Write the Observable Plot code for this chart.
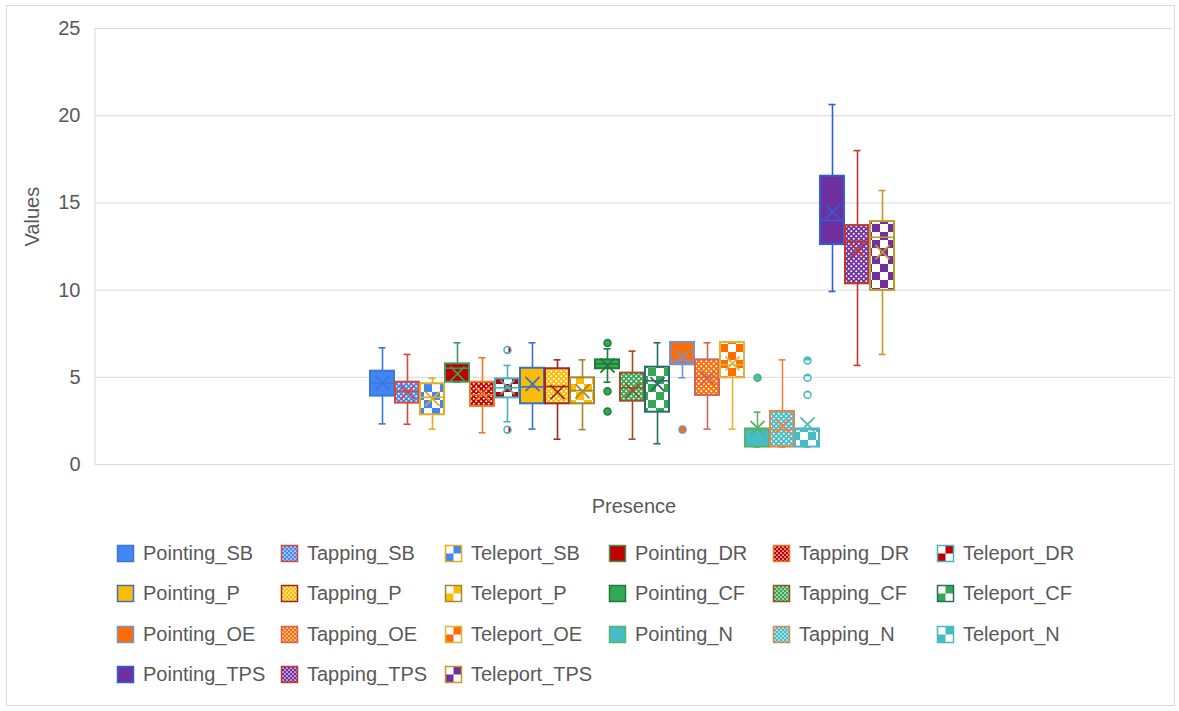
<!DOCTYPE html>
<html><head><meta charset="utf-8">
<script src="https://cdn.jsdelivr.net/npm/d3@7"></script>
<script src="https://cdn.jsdelivr.net/npm/@observablehq/plot@0.6"></script>
<style>
body{margin:0;background:#fff;font-family:"Liberation Sans",Arial,sans-serif;}
#wrap{position:relative;width:1179px;height:711px;overflow:hidden;background:#fff;}
#border{position:absolute;left:6px;top:5px;width:1169px;height:701px;border:1px solid #d9d9d9;box-sizing:border-box;pointer-events:none;}
#chart{position:absolute;left:0;top:0;}
#legend{position:absolute;left:0;top:0;}
.item{position:absolute;display:flex;align-items:center;height:22px;font-size:20px;color:#595959;white-space:nowrap;}
.item svg{margin-right:8px;flex:none;}
</style></head><body>
<div id="wrap"><div id="chart"></div><div id="legend"></div><div id="border"></div></div>
<script>
// ---- data ----
const series = ["Pointing_SB","Tapping_SB","Teleport_SB","Pointing_DR","Tapping_DR","Teleport_DR",
  "Pointing_P","Tapping_P","Teleport_P","Pointing_CF","Tapping_CF","Teleport_CF",
  "Pointing_OE","Tapping_OE","Teleport_OE","Pointing_N","Tapping_N","Teleport_N",
  "Pointing_TPS","Tapping_TPS","Teleport_TPS"];
const lowWhisker  = [2.33,2.31,2.03, 4.72,1.82,2.45, 2.03,1.45,2.00, 4.72,1.45,1.19, 4.97,2.03,2.03, 1.00,1.00,1.00,  9.92, 5.68, 6.31];
const q1          = [3.92,3.52,2.85, 4.72,3.33,3.82, 3.48,3.48,3.48, 5.49,3.63,3.00, 5.72,3.96,4.97, 1.00,1.00,1.00, 12.61,10.36, 9.98];
const median      = [4.66,4.20,3.85, 5.52,4.00,4.40, 4.45,4.47,4.24, 5.77,4.40,4.80, 5.96,5.00,5.72, 2.00,2.00,2.00, 13.99,12.80,13.03];
const q3          = [5.35,4.72,4.63, 5.77,4.72,4.91, 5.52,5.49,4.97, 6.00,5.24,5.58, 7.00,6.00,7.00, 2.04,3.04,2.04, 16.53,13.70,13.93];
const highWhisker = [6.69,6.31,4.95, 6.98,6.12,5.68, 6.98,6.00,6.00, 6.63,6.50,6.98, 7.00,6.98,7.00, 3.00,6.00,2.04, 20.64,18.00,15.71];
const mean        = [4.68,4.15,3.77, 5.20,4.05,4.43, 4.62,4.15,4.20, 5.68,4.24,4.60, 6.15,4.95,5.80, 2.10,2.20,2.30, 14.50,12.27,12.17];
const outlierSeries = ["Teleport_DR","Teleport_DR","Pointing_CF","Pointing_CF","Pointing_CF","Pointing_OE","Pointing_N","Teleport_N","Teleport_N","Teleport_N"];
const outlierValues = [6.56,1.99,6.96,4.20,3.04,2.00,4.97,5.96,4.97,4.00];
const yTicks = [0,5,10,15,20,25];
const xTitle = "Presence";
const yTitle = "Values";

// ---- styles ----
const groupColor = {SB:"#4285F4", DR:"#C00000", P:"#FBBC04", CF:"#34A853", OE:"#FF6D01", N:"#46BDC6", TPS:"#7030A0"};
const borderColor = {
  Pointing_SB:"#3C78D8", Tapping_SB:"#D9463B", Teleport_SB:"#E2AC1E",
  Pointing_DR:"#3E9A5C", Tapping_DR:"#EA7A2A", Teleport_DR:"#46B3BD",
  Pointing_P:"#3F6FC4", Tapping_P:"#9E2A22", Teleport_P:"#A3862E",
  Pointing_CF:"#1F7A3C", Tapping_CF:"#9C4F22", Teleport_CF:"#236E66",
  Pointing_OE:"#6E95DC", Tapping_OE:"#CF6459", Teleport_OE:"#E3B23C",
  Pointing_N:"#55B46A", Tapping_N:"#E8844A", Teleport_N:"#4DB9C2",
  Pointing_TPS:"#2F5FD0", Tapping_TPS:"#C0392B", Teleport_TPS:"#C49A22"
};
const kind = s => s.split("_")[0];
const grp = s => s.split("_")[1];
const idx = d3.range(series.length);
const fillOf = (i, prefix="pat") => kind(series[i]) === "Pointing" ? groupColor[grp(series[i])] : `url(#${prefix}-${i})`;
const strokeOf = i => borderColor[series[i]];
const oIdx = d3.range(outlierValues.length);
const oSer = j => series.indexOf(outlierSeries[j]);

const mL = 95, mT = 28, mB = 61, mR = 7;
const chart = Plot.plot({
  width: 1179, height: 525,
  marginLeft: mL, marginRight: mR, marginTop: mT, marginBottom: mB,
  style: {fontFamily: '"Liberation Sans", Arial, sans-serif', fontSize: "20px", color: "#595959", background: "transparent"},
  x: {type: "band", domain: series, range: [361, 902], paddingInner: 0.06, paddingOuter: 0, axis: null},
  y: {domain: [0, 25], ticks: yTicks, tickSize: 0, tickPadding: 15, label: null},
  color: {type: "identity"},
  marks: [
    Plot.ruleY(yTicks, {stroke: "#d9d9d9", strokeWidth: 1}),
    Plot.ruleX(idx, {x: i => series[i], y1: i => lowWhisker[i], y2: i => highWhisker[i], stroke: strokeOf, strokeWidth: 1.6}),
    Plot.tickY(idx, {x: i => series[i], y: i => highWhisker[i], stroke: strokeOf, strokeWidth: 1.6, insetLeft: 8.5, insetRight: 8.5}),
    Plot.tickY(idx, {x: i => series[i], y: i => lowWhisker[i], stroke: strokeOf, strokeWidth: 1.6, insetLeft: 8.5, insetRight: 8.5}),
    Plot.barY(idx, {x: i => series[i], y1: i => q1[i], y2: i => q3[i], fill: i => fillOf(i), stroke: strokeOf, strokeWidth: 2}),
    Plot.tickY(idx, {x: i => series[i], y: i => median[i], stroke: strokeOf, strokeWidth: 1.6, insetLeft: 1, insetRight: 1}),
    Plot.dot(idx, {x: i => series[i], y: i => mean[i], symbol: "times", r: 6.5, stroke: strokeOf, strokeWidth: 1.8}),
    Plot.dot(oIdx, {x: j => outlierSeries[j], y: j => outlierValues[j], r: 3.5, fill: j => fillOf(oSer(j)), stroke: j => strokeOf(oSer(j)), strokeWidth: 1.5}),
    Plot.text([xTitle], {frameAnchor: "bottom", lineAnchor: "middle", dy: 42, fontSize: 20, fill: "#595959"}),
    Plot.text([yTitle], {frameAnchor: "left", dx: -63, rotate: -90, fontSize: 20, fill: "#595959"})
  ]
});

function addPatterns(defs, prefix) {
  idx.forEach(i => {
    const s = series[i], k = kind(s), c = groupColor[grp(s)];
    if (k === "Tapping") {
      const p = defs.append("pattern").attr("id", `${prefix}-${i}`).attr("patternUnits", "userSpaceOnUse")
        .attr("width", 5).attr("height", 5);
      p.append("rect").attr("width", 5).attr("height", 5).attr("fill", c);
      p.append("circle").attr("cx", 1.25).attr("cy", 1.25).attr("r", 1.05).attr("fill", "#fff");
      p.append("circle").attr("cx", 3.75).attr("cy", 3.75).attr("r", 1.05).attr("fill", "#fff");
    } else if (k === "Teleport") {
      const cell = 8;
      const p = defs.append("pattern").attr("id", `${prefix}-${i}`).attr("patternUnits", "userSpaceOnUse")
        .attr("width", 2 * cell).attr("height", 2 * cell);
      p.append("rect").attr("width", 2 * cell).attr("height", 2 * cell).attr("fill", c);
      p.append("rect").attr("width", cell).attr("height", cell).attr("fill", "#fff");
      p.append("rect").attr("x", cell).attr("y", cell).attr("width", cell).attr("height", cell).attr("fill", "#fff");
    }
  });
}
const svg = d3.select(chart);
const defs = svg.insert("defs", ":first-child");
addPatterns(defs, "pat");
// left axis line of the plot frame
svg.insert("line", "defs + *").attr("x1", mL).attr("x2", mL).attr("y1", mT).attr("y2", 525 - mB).attr("stroke", "#d9d9d9");
document.getElementById("chart").appendChild(chart);

// ---- legend ----
const legend = d3.select("#legend");
series.forEach((s, i) => {
  const col = i % 6, row = Math.floor(i / 6);
  const item = legend.append("div").attr("class", "item")
    .style("left", (116 + col * 164) + "px").style("top", (542 + row * 40.5) + "px");
  const sw = item.append("svg").attr("width", 19).attr("height", 19);
  const d = sw.append("defs");
  const k = kind(s), c = groupColor[grp(s)];
  if (k === "Tapping") {
    const p = d.append("pattern").attr("id", `lg-${i}`).attr("patternUnits", "userSpaceOnUse").attr("width", 4).attr("height", 4);
    p.append("rect").attr("width", 4).attr("height", 4).attr("fill", c);
    p.append("circle").attr("cx", 1).attr("cy", 1).attr("r", 0.85).attr("fill", "#fff");
    p.append("circle").attr("cx", 3).attr("cy", 3).attr("r", 0.85).attr("fill", "#fff");
  } else if (k === "Teleport") {
    const cell = 8;
    const p = d.append("pattern").attr("id", `lg-${i}`).attr("patternUnits", "userSpaceOnUse")
      .attr("width", 16).attr("height", 16).attr("x", 1.5).attr("y", 1.5);
    p.append("rect").attr("width", 16).attr("height", 16).attr("fill", c);
    p.append("rect").attr("width", cell).attr("height", cell).attr("fill", "#fff");
    p.append("rect").attr("x", cell).attr("y", cell).attr("width", cell).attr("height", cell).attr("fill", "#fff");
  }
  sw.append("rect").attr("x", 1.5).attr("y", 1.5).attr("width", 16).attr("height", 16)
    .attr("fill", fillOf(i, "lg")).attr("stroke", strokeOf(i)).attr("stroke-width", 1.5);
  item.append("span").text(s);
});
</script></body></html>
